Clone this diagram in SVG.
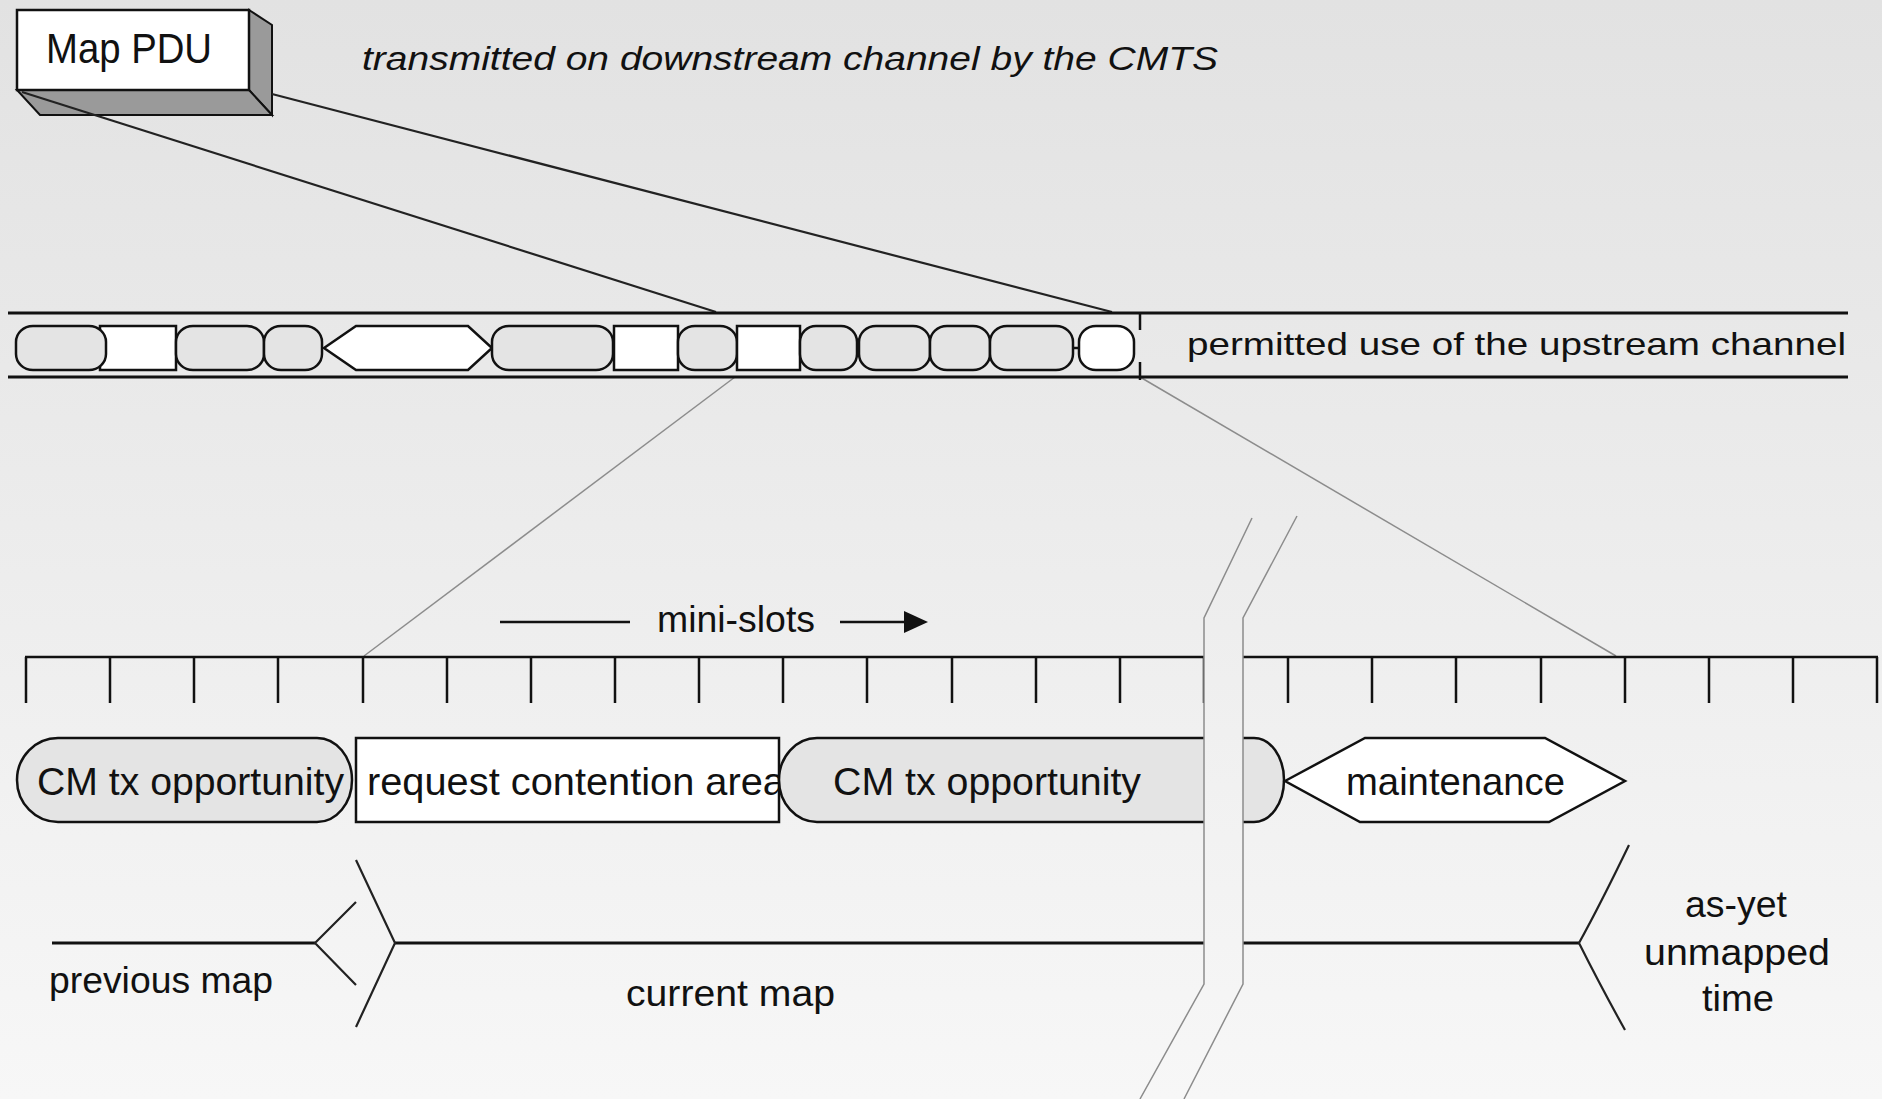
<svg xmlns="http://www.w3.org/2000/svg" width="1882" height="1099" viewBox="0 0 1882 1099">
<defs>
<linearGradient id="bg" x1="0" y1="0" x2="0" y2="1099" gradientUnits="userSpaceOnUse">
<stop offset="0" stop-color="#e2e2e2"/>
<stop offset="1" stop-color="#f7f7f7"/>
</linearGradient>
<style>
.t{font-family:"Liberation Sans",Arial,sans-serif;fill:#111;}
.ln{stroke:#111;fill:none;stroke-width:2.5;}
.thin{stroke:#222;fill:none;stroke-width:2.2;}
.gray{stroke:#8c8c8c;fill:none;stroke-width:1.5;}
.ov{fill:#e4e4e4;stroke:#111;stroke-width:2.5;}
.wh{fill:#ffffff;stroke:#111;stroke-width:2.5;}
.side{fill:#9a9a9a;stroke:#111;stroke-width:2;}
</style>
</defs>
<rect x="0" y="0" width="1882" height="1099" fill="url(#bg)"/>

<g id="map-pdu">
<polygon class="side" points="249,10 272,25 272,115 249,90"/>
<polygon class="side" points="17,90 249,90 272,115 40,115"/>
<rect class="wh" x="17" y="10" width="232" height="80"/>
<text class="t" x="46" y="63" font-size="42" textLength="166" lengthAdjust="spacingAndGlyphs">Map PDU</text>
</g>
<text id="caption-top" class="t" x="362" y="70" font-size="33" font-style="italic" textLength="856" lengthAdjust="spacingAndGlyphs">transmitted on downstream channel by the CMTS</text>

<g id="connectors">
<line class="thin" x1="272" y1="94" x2="1112" y2="312"/>
<line class="thin" x1="22" y1="92" x2="716" y2="312"/>
<line class="gray" x1="735" y1="377" x2="364" y2="656"/>
<line class="gray" x1="1140" y1="377" x2="1616" y2="656"/>
</g>

<g id="upstream-channel">
<line x1="8" y1="313" x2="1848" y2="313" stroke="#111" stroke-width="3"/>
<line x1="8" y1="377" x2="1848" y2="377" stroke="#111" stroke-width="3"/>
<line class="ln" x1="1140" y1="313" x2="1140" y2="330"/>
<line class="ln" x1="1140" y1="362" x2="1140" y2="380"/>
<rect class="wh" x="100" y="326" width="76" height="44"/>
<rect class="ov" x="16" y="326" width="90" height="44" rx="17" ry="16"/>
<rect class="ov" x="176" y="326" width="88" height="44" rx="17" ry="16"/>
<rect class="ov" x="264" y="326" width="58" height="44" rx="17" ry="16"/>
<polygon class="wh" points="324,348 356,326 468,326 492,348 468,370 356,370"/>
<rect class="ov" x="492" y="326" width="121" height="44" rx="17" ry="16"/>
<rect class="wh" x="614" y="326" width="64" height="44"/>
<rect class="ov" x="678" y="326" width="59" height="44" rx="17" ry="16"/>
<rect class="wh" x="737" y="326" width="63" height="44"/>
<rect class="ov" x="800" y="326" width="57" height="44" rx="16" ry="16"/>
<rect class="ov" x="859" y="326" width="71" height="44" rx="17" ry="16"/>
<rect class="ov" x="930" y="326" width="60" height="44" rx="17" ry="16"/>
<rect class="ov" x="990" y="326" width="83" height="44" rx="17" ry="16"/>
<line class="ln" x1="1073" y1="348" x2="1080" y2="348"/>
<rect class="wh" x="1079" y="326" width="55" height="44" rx="17" ry="16"/>
<text class="t" x="1187" y="355" font-size="32" textLength="659" lengthAdjust="spacingAndGlyphs">permitted use of the upstream channel</text>
</g>

<g id="mini-slots">
<line class="ln" x1="500" y1="622" x2="630" y2="622"/>
<text class="t" x="657" y="632" font-size="36" textLength="158" lengthAdjust="spacingAndGlyphs">mini-slots</text>
<line class="ln" x1="840" y1="622" x2="906" y2="622"/>
<polygon points="904,611 928,622 904,633" fill="#111"/>
<line class="ln" x1="25" y1="657" x2="1878" y2="657"/>
<path class="ln" d="M26,657V703 M110,657V703 M194,657V703 M278,657V703 M363,657V703 M447,657V703 M531,657V703 M615,657V703 M699,657V703 M783,657V703 M867,657V703 M952,657V703 M1036,657V703 M1120,657V703 M1204,657V703 M1288,657V703 M1372,657V703 M1456,657V703 M1541,657V703 M1625,657V703 M1709,657V703 M1793,657V703 M1877,657V703"/>
</g>

<g id="cm-tx-1">
<path class="ov" d="M58,738 H317 A35,42 0 0 1 317,822 H58 A41,42 0 0 1 58,738 Z"/>
<text class="t" x="37" y="795" font-size="39" textLength="307" lengthAdjust="spacingAndGlyphs">CM tx opportunity</text>
</g>
<g id="request-contention">
<rect class="wh" x="356" y="738" width="423" height="84"/>
<text class="t" x="367" y="795" font-size="39" textLength="418" lengthAdjust="spacingAndGlyphs">request contention area</text>
</g>
<g id="cm-tx-2">
<path class="ov" d="M817,738 H1254 A30,42 0 0 1 1254,822 H817 A38,42 0 0 1 817,738 Z"/>
<text class="t" x="833" y="795" font-size="39" textLength="308" lengthAdjust="spacingAndGlyphs">CM tx opportunity</text>
</g>
<g id="maintenance">
<polygon class="wh" points="1285,781 1365,738 1545,738 1625,781 1549,822 1360,822"/>
<text class="t" x="1346" y="795" font-size="39" textLength="219" lengthAdjust="spacingAndGlyphs">maintenance</text>
</g>

<g id="timeline">
<line x1="52" y1="943" x2="315" y2="943" stroke="#111" stroke-width="3"/>
<line x1="395" y1="943" x2="1579" y2="943" stroke="#111" stroke-width="3"/>
<polyline class="thin" points="356,902 315,943 356,985"/>
<polyline class="thin" points="356,860 395,943 356,1027"/>
<path class="thin" d="M1629,845 Q1600,905 1579,943 Q1600,985 1625,1030"/>
<text class="t" x="49" y="993" font-size="36" textLength="224" lengthAdjust="spacingAndGlyphs">previous map</text>
<text class="t" x="626" y="1006" font-size="36" textLength="209" lengthAdjust="spacingAndGlyphs">current map</text>
<text class="t" x="1736" y="917" font-size="36" text-anchor="middle" textLength="102" lengthAdjust="spacingAndGlyphs">as-yet</text>
<text class="t" x="1737" y="965" font-size="36" text-anchor="middle" textLength="186" lengthAdjust="spacingAndGlyphs">unmapped</text>
<text class="t" x="1738" y="1011" font-size="36" text-anchor="middle" textLength="72" lengthAdjust="spacingAndGlyphs">time</text>
</g>

<g id="break">
<polygon points="1252,518 1297,516 1243,618 1243,984 1184,1099 1140,1099 1204,984 1204,618" fill="url(#bg)"/>
<polyline class="gray" points="1252,518 1204,618 1204,984 1140,1099"/>
<polyline class="gray" points="1297,516 1243,618 1243,984 1184,1099"/>
</g>
</svg>
